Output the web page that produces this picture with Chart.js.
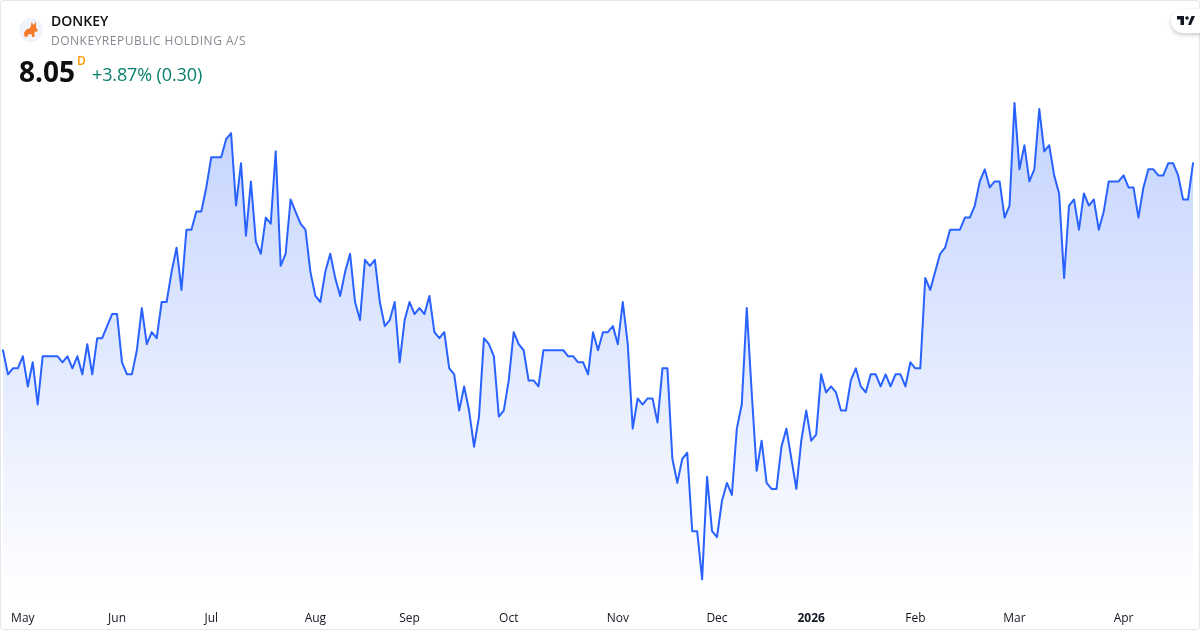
<!DOCTYPE html>
<html>
<head>
<meta charset="utf-8">
<script src="https://cdn.jsdelivr.net/npm/chart.js@4"></script>
<style>
  html, body { margin: 0; padding: 0; background: #fff; }
  body { width: 1200px; height: 630px; overflow: hidden; position: relative; font-family: "Open Sans", sans-serif; }
  #card { position: absolute; left: 0; top: 0; width: 1198px; height: 628px; border: 1px solid #e6e7ea; border-radius: 3px; }
  #wrap { position: absolute; left: 0; top: 0; width: 1200px; height: 630px; }
  .txt { position: absolute; white-space: nowrap; }
  #sym { left: 51px; top: 12px; font-size: 14px; font-weight: 600; color: #0f0f0f; line-height: 18px; }
  #name { left: 51px; top: 32px; font-size: 12px; color: #868993; line-height: 17px; letter-spacing: .51px; }
  #price { left: 19px; top: 51px; font-size: 28px; font-weight: 700; color: #0f0f0f; line-height: 40px; }
  #res { left: 77px; top: 54px; font-size: 12px; font-weight: 600; color: #ff9800; line-height: 14px; }
  #chg { left: 92px; top: 62px; font-size: 18px; color: #067f6d; line-height: 25px; letter-spacing: -.12px; }
  #logo { position: absolute; left: 19px; top: 18px; width: 24px; height: 24px; border-radius: 50%; background: #f0f3fa; }
  #badge { position: absolute; left: 1171px; top: 9px; width: 32px; height: 24px; border-radius: 12px 0 0 12px; background: #fff; box-shadow: 0 2px 4px rgba(0,0,0,.2); }
</style>
</head>
<body>
<div id="wrap"><canvas id="chart" width="1200" height="630"></canvas></div>
<div id="card"></div>
<div id="logo">
  <svg width="24" height="24" viewBox="0 0 24 24"><path d="M5 14.5 L8 11 L10.5 10.5 L12 8 L12.5 4 L14.5 7 L17 4 L17 9.5 L19 12.5 L17 14 L15.5 13.5 L15.5 19 L13 19 L12.5 16 L9.5 16.5 L8 19 L5.5 18.5 Z" fill="#f47a2a"/></svg>
</div>
<div class="txt" id="sym">DONKEY</div>
<div class="txt" id="name">DONKEYREPUBLIC HOLDING A/S</div>
<div class="txt" id="price">8.05</div>
<div class="txt" id="res">D</div>
<div class="txt" id="chg">+3.87% (0.30)</div>
<div id="badge">
  <svg width="18" height="10" viewBox="0 0 36 20" style="position:absolute;left:6px;top:7px"><path d="M0 0 H14 V18 H7 V7 H0 Z M22 18 L29 0 H36 L28 18 Z" fill="#131722"/><circle cx="20" cy="4" r="3.6" fill="#131722"/></svg>
</div>

<script>
// daily closes, May 2025 to Apr 2026
const pricesSpring = [6.50,6.30,6.35,6.35,6.45,6.20,6.40,6.05,6.45,6.45,6.45,6.45,6.40,6.45,6.35,6.45,6.30,6.55,6.30,6.60,6.60,6.70,6.80,6.80,6.40,6.30,6.30,6.50,6.85,6.55,6.65,6.60,6.90,6.90,7.15,7.35,7.00,7.50,7.50,7.65,7.65,7.85,8.10,8.10,8.10,8.25,8.30,7.70,8.05,7.45,7.90,7.40,7.30,7.60,7.55,8.15,7.20,7.30,7.75,7.65];
const pricesSummer = [7.55,7.50,7.15,6.95,6.90,7.15,7.30,7.10,6.95,7.15,7.30,6.90,6.75,7.25,7.20,7.25,6.90,6.70,6.75,6.90,6.40,6.75,6.90,6.80,6.85,6.80,6.95,6.65,6.60,6.65,6.35,6.30,6.00,6.20,6.00,5.70,5.95,6.60,6.55,6.45,5.95,6.00,6.25,6.65,6.55,6.50,6.25,6.25,6.20,6.50,6.50,6.50,6.50,6.50,6.45,6.45,6.40,6.40,6.30,6.65,6.50];
const pricesAutumn = [6.65,6.65,6.70,6.55,6.90,6.55,5.85,6.10,6.05,6.10,6.10,5.90,6.35,6.35,5.60,5.40,5.60,5.65,5.00,5.00,4.60,5.45,5.00,4.95,5.25,5.40,5.30,5.85,6.05,6.85,6.15,5.50,5.75,5.40,5.35,5.35,5.70,5.85,5.60,5.35,5.75,6.00,5.75,5.80,6.30,6.15,6.20,6.15,6.00,6.00,6.25,6.35,6.20,6.15,6.30,6.30,6.20,6.30,6.20,6.30];
const pricesWinter = [6.30,6.20,6.40,6.35,6.35,7.10,7.00,7.15,7.30,7.35,7.50,7.50,7.50,7.60,7.60,7.70,7.90,8.00,7.85,7.90,7.90,7.60,7.70,8.55,8.00,8.20,7.90,8.00,8.50,8.15,8.20,7.95,7.80,7.10,7.70,7.75,7.50,7.80,7.70,7.75,7.50,7.65,7.90,7.90,7.90,7.95,7.85,7.85,7.60,7.85,8.00,8.00,7.95,7.95,8.05,8.05,7.95,7.75,7.75,8.05];
const prices = [...pricesSpring, ...pricesSummer, ...pricesAutumn, ...pricesWinter];

const monthLabels = ['May','Jun','Jul','Aug','Sep','Oct','Nov','Dec','2026','Feb','Mar','Apr'];
const monthStarts = [4,23,42,63,82,102,124,144,163,184,204,226];

const labels = prices.map((p, i) => {
  const m = monthStarts.indexOf(i);
  return m >= 0 ? monthLabels[m] : '';
});

const ctx = document.getElementById('chart').getContext('2d');
new Chart(ctx, {
  type: 'line',
  data: {
    labels,
    datasets: [{
      data: prices,
      borderColor: '#2962ff',
      borderWidth: 2,
      borderJoinStyle: 'round',
      borderCapStyle: 'round',
      pointRadius: 0,
      tension: 0,
      fill: 'start',
      backgroundColor: (c) => {
        const area = c.chart.chartArea;
        if (!area) return 'rgba(41,98,255,0.28)';
        const g = c.chart.ctx.createLinearGradient(0, 100, 0, area.bottom);
        g.addColorStop(0, 'rgba(41,98,255,0.28)');
        g.addColorStop(1, 'rgba(41,98,255,0)');
        return g;
      }
    }]
  },
  options: {
    responsive: false,
    animation: false,
    devicePixelRatio: 1,
    layout: { padding: { left: 0, right: 7, top: 90, bottom: 0 } },
    plugins: { legend: { display: false }, tooltip: { enabled: false } },
    scales: {
      x: {
        type: 'category',
        border: { display: false },
        grid: { display: false },
        afterFit: (s) => { s.height = 30; },
        ticks: {
          autoSkip: false,
          maxRotation: 0,
          padding: 3,
          color: '#131722',
          font: (c) => ({
            family: '"Open Sans", sans-serif',
            size: 12,
            weight: c.tick && c.tick.label === '2026' ? '700' : '400'
          }),
          callback: (v, i) => labels[i]
        }
      },
      y: {
        display: false,
        min: 4.429,
        max: 8.658
      }
    }
  }
});
</script>
</body>
</html>
